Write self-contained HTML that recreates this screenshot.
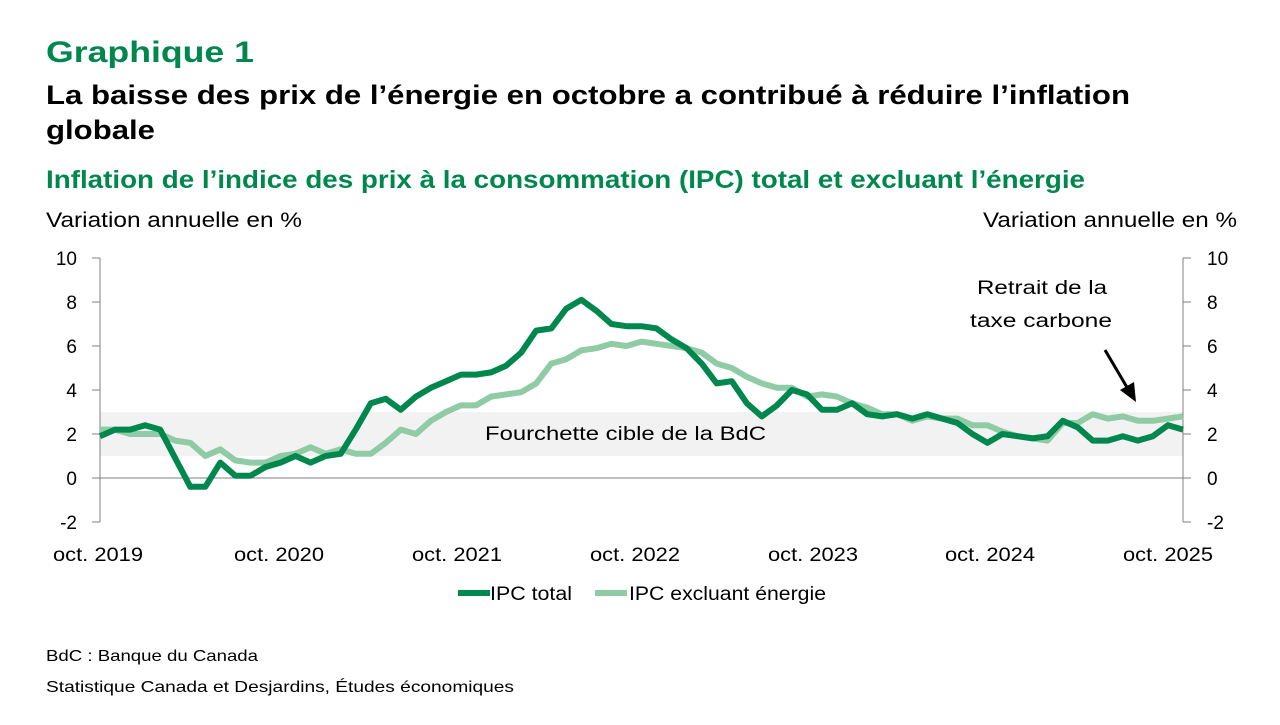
<!DOCTYPE html>
<html><head><meta charset="utf-8"><style>
body{margin:0;width:1280px;height:720px;background:#fff;font-family:"Liberation Sans",sans-serif;overflow:hidden}
</style></head><body>
<svg width="1280" height="720" xmlns="http://www.w3.org/2000/svg" font-family="Liberation Sans, sans-serif">
<text x="46" y="62" font-size="30" font-weight="bold" fill="#00874E" textLength="208" lengthAdjust="spacingAndGlyphs">Graphique 1</text>
<text x="46" y="104" font-size="27" font-weight="bold" fill="#000" textLength="1084" lengthAdjust="spacingAndGlyphs">La baisse des prix de l’énergie en octobre a contribué à réduire l’inflation</text>
<text x="46" y="139" font-size="27" font-weight="bold" fill="#000" textLength="109" lengthAdjust="spacingAndGlyphs">globale</text>
<text x="46" y="188" font-size="25" font-weight="bold" fill="#00874E" textLength="1039" lengthAdjust="spacingAndGlyphs">Inflation de l’indice des prix à la consommation (IPC) total et excluant l’énergie</text>
<text x="46" y="227" font-size="21" fill="#000" textLength="256" lengthAdjust="spacingAndGlyphs">Variation annuelle en %</text>
<text x="983" y="227" font-size="21" fill="#000" textLength="254" lengthAdjust="spacingAndGlyphs">Variation annuelle en %</text>
<rect x="100" y="412" width="1083" height="44" fill="#f2f2f2"/>
<g font-size="19" fill="#000">
<text x="77" y="265" text-anchor="end">10</text><text x="77" y="309" text-anchor="end">8</text><text x="77" y="353" text-anchor="end">6</text><text x="77" y="397" text-anchor="end">4</text><text x="77" y="441" text-anchor="end">2</text><text x="77" y="485" text-anchor="end">0</text><text x="77" y="529" text-anchor="end">-2</text>
<text x="1207" y="265">10</text><text x="1207" y="309">8</text><text x="1207" y="353">6</text><text x="1207" y="397">4</text><text x="1207" y="441">2</text><text x="1207" y="485">0</text><text x="1207" y="529">-2</text>
<text x="53" y="561" textLength="90" lengthAdjust="spacingAndGlyphs">oct. 2019</text>
<text x="234" y="561" textLength="90" lengthAdjust="spacingAndGlyphs">oct. 2020</text>
<text x="412" y="561" textLength="90" lengthAdjust="spacingAndGlyphs">oct. 2021</text>
<text x="590" y="561" textLength="90" lengthAdjust="spacingAndGlyphs">oct. 2022</text>
<text x="768" y="561" textLength="90" lengthAdjust="spacingAndGlyphs">oct. 2023</text>
<text x="945" y="561" textLength="90" lengthAdjust="spacingAndGlyphs">oct. 2024</text>
<text x="1123" y="561" textLength="90" lengthAdjust="spacingAndGlyphs">oct. 2025</text>
<text x="485" y="440" textLength="281" lengthAdjust="spacingAndGlyphs">Fourchette cible de la BdC</text>
<text x="977" y="294" textLength="130" lengthAdjust="spacingAndGlyphs">Retrait de la</text>
<text x="970" y="327" textLength="142" lengthAdjust="spacingAndGlyphs">taxe carbone</text>
</g>
<g stroke="#808080" stroke-width="1" fill="none">
<path d="M100 258V522M92 258H100M92 302H100M92 346H100M92 390H100M92 434H100M92 478H100M92 522H100"/>
<path d="M1183 258V522M1183 258H1191M1183 302H1191M1183 346H1191M1183 390H1191M1183 434H1191M1183 478H1191M1183 522H1191"/>
<path d="M100 478H1183"/>
</g>
<polyline id="ex" fill="none" stroke="#8FCBA4" stroke-width="6" stroke-linejoin="round"/>
<polyline id="tot" fill="none" stroke="#00874E" stroke-width="6" stroke-linejoin="round"/>
<line x1="1105" y1="350" x2="1128" y2="389" stroke="#000" stroke-width="3"/>
<polygon points="1136,402 1120,390 1134,382" fill="#000"/>
<line x1="458" y1="593" x2="490" y2="593" stroke="#00874E" stroke-width="6"/>
<text x="490" y="600" font-size="19" textLength="82" lengthAdjust="spacingAndGlyphs">IPC total</text>
<line x1="595" y1="593" x2="627" y2="593" stroke="#8FCBA4" stroke-width="6"/>
<text x="629" y="600" font-size="19" textLength="197" lengthAdjust="spacingAndGlyphs">IPC excluant énergie</text>
<text x="46" y="661" font-size="16" textLength="212" lengthAdjust="spacingAndGlyphs">BdC : Banque du Canada</text>
<text x="46" y="692" font-size="16" textLength="468" lengthAdjust="spacingAndGlyphs">Statistique Canada et Desjardins, Études économiques</text>
</svg>
<script>
var tot=[1.9,2.2,2.2,2.4,2.2,0.9,-0.4,-0.4,0.7,0.1,0.1,0.5,0.7,1.0,0.7,1.0,1.1,2.2,3.4,3.6,3.1,3.7,4.1,4.4,4.7,4.7,4.8,5.1,5.7,6.7,6.8,7.7,8.1,7.6,7.0,6.9,6.9,6.8,6.3,5.9,5.2,4.3,4.4,3.4,2.8,3.3,4.0,3.8,3.1,3.1,3.4,2.9,2.8,2.9,2.7,2.9,2.7,2.5,2.0,1.6,2.0,1.9,1.8,1.9,2.6,2.3,1.7,1.7,1.9,1.7,1.9,2.4,2.2];
var ex=[2.2,2.2,2.0,2.0,2.0,1.7,1.6,1.0,1.3,0.8,0.7,0.7,1.0,1.1,1.4,1.1,1.3,1.1,1.1,1.6,2.2,2.0,2.6,3.0,3.3,3.3,3.7,3.8,3.9,4.3,5.2,5.4,5.8,5.9,6.1,6.0,6.2,6.1,6.0,5.9,5.7,5.2,5.0,4.6,4.3,4.1,4.1,3.7,3.8,3.7,3.4,3.2,2.9,2.9,2.6,2.8,2.7,2.7,2.4,2.4,2.1,1.9,1.8,1.7,2.5,2.5,2.9,2.7,2.8,2.6,2.6,2.7,2.8];
function pts(a){var s=(1183-100)/(a.length-1);return a.map(function(v,i){return (100+i*s).toFixed(1)+","+(478-22*v).toFixed(1)}).join(" ")}
document.getElementById("tot").setAttribute("points",pts(tot));
document.getElementById("ex").setAttribute("points",pts(ex));
</script>
</body></html>
